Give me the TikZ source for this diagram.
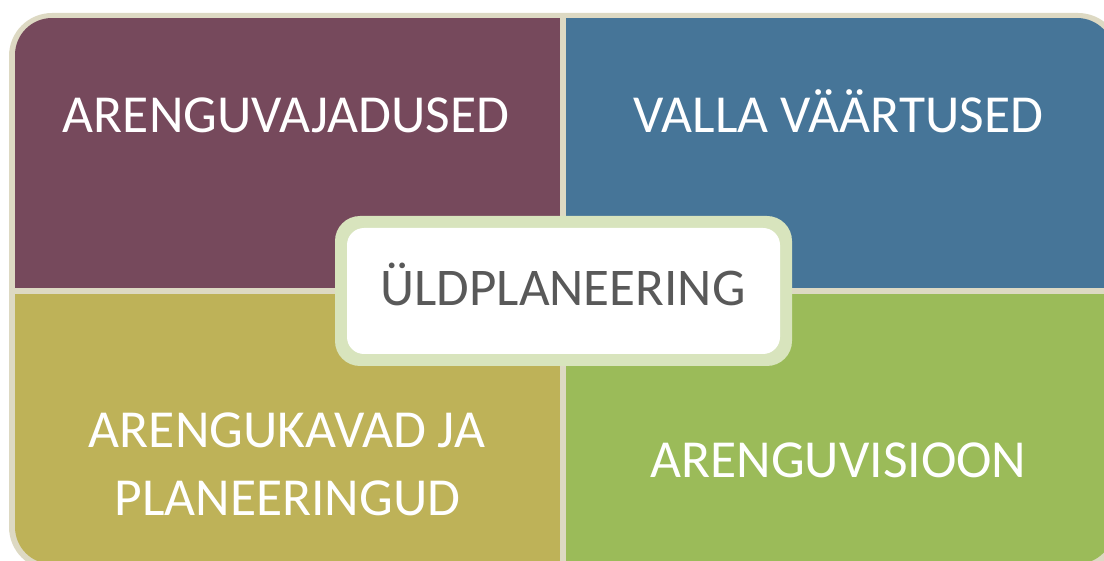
\documentclass[tikz,border=0pt]{standalone}
\usepackage{fontspec}
\setmainfont{Carlito}
\definecolor{framec}{RGB}{221,217,195}
\definecolor{qpurple}{RGB}{118,73,92}
\definecolor{qblue}{RGB}{70,117,152}
\definecolor{qolive}{RGB}{190,178,88}
\definecolor{qgreen}{RGB}{155,187,89}
\definecolor{cframe}{RGB}{216,228,189}
\definecolor{ctext}{RGB}{89,89,89}
\begin{document}
\begin{tikzpicture}[x=1pt,y=-1pt,
  quadtext/.style={font=\fontsize{53.5}{67}\selectfont, text=white, anchor=base, inner sep=0pt},
  centertext/.style={font=\fontsize{53}{60}\selectfont, text=ctext, anchor=base, inner sep=0pt}]
\useasboundingbox (0,0) rectangle (1104,561);
\fill[framec, rounded corners=43pt] (9,13) rectangle (1121,570);
\begin{scope}
  \clip[rounded corners=37pt] (15,18) rectangle (1114,564);
  \fill[qpurple] (15,18) rectangle (560,288);
  \fill[qblue] (566,18) rectangle (1114,288);
  \fill[qolive] (15,294) rectangle (560,564);
  \fill[qgreen] (566,294) rectangle (1114,564);
\end{scope}
\fill[cframe, rounded corners=25pt] (335,216) rectangle (792,366);
\fill[white, rounded corners=17pt] (347,228) rectangle (780,354);
\node[quadtext] (needs) at (286,133) {ARENGUVAJADUSED};
\node[quadtext] (values) at (838.5,133) {VALLA VÄÄRTUSED};
\node[quadtext] (plans1) at (287,448) {ARENGUKAVAD JA};
\node[quadtext] (plans2) at (287.5,515) {PLANEERINGUD};
\node[quadtext] (vision) at (838.5,477) {ARENGUVISIOON};
\node[centertext] (center) at (563,306) {ÜLDPLANEERING};
\end{tikzpicture}
\end{document}
